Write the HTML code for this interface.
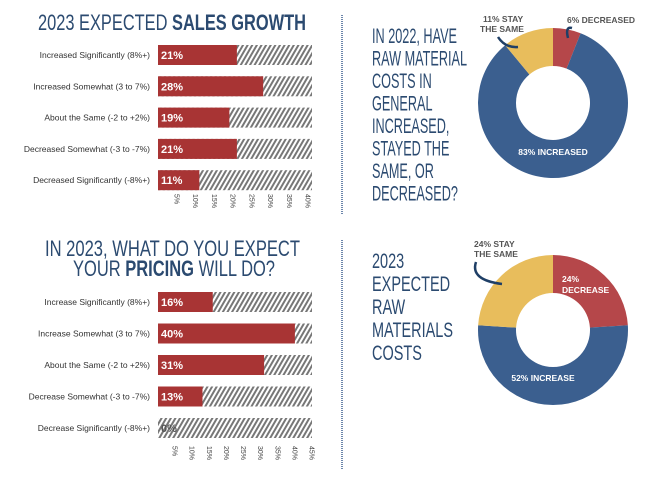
<!DOCTYPE html>
<html><head><meta charset="utf-8">
<style>
html,body{margin:0;padding:0;background:#fff;}
svg{display:block;}
.ttl{font-family:"Liberation Sans Narrow","Liberation Sans",sans-serif;fill:#2b4a70;}
.lbl{font-family:"Liberation Sans",sans-serif;font-size:8.5px;fill:#333;}
.val{font-family:"Liberation Sans",sans-serif;font-size:11px;font-weight:bold;fill:#fff;}
.tick{font-family:"Liberation Sans",sans-serif;font-size:7px;fill:#444;}
.dl{font-family:"Liberation Sans",sans-serif;font-size:8.5px;font-weight:bold;}
</style></head><body>
<svg id="chart" width="663" height="477" viewBox="0 0 663 477" xmlns="http://www.w3.org/2000/svg">
<defs>
<pattern id="hatch" patternUnits="userSpaceOnUse" width="4" height="4" patternTransform="rotate(30)">
<rect width="4" height="4" fill="#fff"/><rect width="2" height="4" fill="#777"/>
</pattern>
</defs>
<text class="ttl" x="38" y="30" font-size="22" textLength="268" lengthAdjust="spacingAndGlyphs">2023 EXPECTED <tspan font-weight="bold">SALES GROWTH</tspan></text>
<text class="ttl" x="45" y="256" font-size="22" textLength="255" lengthAdjust="spacingAndGlyphs">IN 2023, WHAT DO YOU EXPECT</text>
<text class="ttl" x="73" y="276" font-size="22" textLength="202" lengthAdjust="spacingAndGlyphs">YOUR <tspan font-weight="bold">PRICING</tspan> WILL DO?</text>
<line x1="342" y1="15" x2="342" y2="215" stroke="#3b5f8f" stroke-width="1.5" stroke-dasharray="1,1"/>
<line x1="342" y1="240" x2="342" y2="470" stroke="#3b5f8f" stroke-width="1.5" stroke-dasharray="1,1"/>
<g id="q1"></g>
<g id="q2"></g>
</svg>
<script>
const salesCats = ["Increased Significantly (8%+)","Increased Somewhat (3 to 7%)","About the Same (-2 to +2%)","Decreased Somewhat (-3 to -7%)","Decreased Significantly (-8%+)"];
const salesVals = [21,28,19,21,11];
const salesTicks = ["5%","10%","15%","20%","25%","30%","35%","40%"];
const priceCats = ["Increase Significantly (8%+)","Increase Somewhat (3 to 7%)","About the Same (-2 to +2%)","Decrease Somewhat (-3 to -7%)","Decrease Significantly (-8%+)"];
const priceVals = [16,40,31,13,0];
const priceTicks = ["5%","10%","15%","20%","25%","30%","35%","40%","45%"];
const donut1Labels = ["6% DECREASED","83% INCREASED","11% STAY THE SAME"];
const donut1Vals = [6,83,11];
const donut2Labels = ["24% DECREASE","52% INCREASE","24% STAY THE SAME"];
const donut2Vals = [24,52,24];
const q1Lines = ["IN 2022, HAVE","RAW MATERIAL","COSTS IN","GENERAL","INCREASED,","STAYED THE","SAME, OR","DECREASED?"];
const q2Lines = ["2023","EXPECTED","RAW","MATERIALS","COSTS"];

const NS="http://www.w3.org/2000/svg";
const svg=document.getElementById('chart');
function mk(tag,attrs,parent,text){const e=document.createElementNS(NS,tag);for(const k in attrs)e.setAttribute(k,attrs[k]);if(text!==undefined)e.textContent=text;(parent||svg).appendChild(e);return e;}

function barChart(cats,vals,ticks,maxV,y0,step,tickY,prefix){
  const x0=158,x1=312,bh=20;
  const xs=v=>x0+(x1-x0)*v/maxV;
  const g=mk('g',{});
  
  
  cats.forEach((c,i)=>{
    const cy=y0+i*step;
    const t=mk('text',{class:'lbl',x:150,y:cy+3,'text-anchor':'end'},g,c);
    
    
    const bg=mk('rect',{x:x0,y:cy-bh/2,width:x1-x0,height:bh,fill:'url(#hatch)'},g);
    
    
    const b=mk('rect',{x:x0,y:cy-bh/2,width:Math.max(0,xs(vals[i])-x0),height:bh,fill:'#a83434'},g);
    
    
    const v=mk('text',{class:'val',x:x0+3,y:cy+4},g,vals[i]+'%');
    if(vals[i]===0)v.setAttribute('style','fill:#555');
    
    
  });
  ticks.forEach(tk=>{
    const val=parseFloat(tk);
    const tx=xs(val);
    const t=mk('text',{class:'tick',x:0,y:0,transform:`translate(${tx-2.5},${tickY}) rotate(90)`},g,tk);
    
    
  });
}
barChart(salesCats,salesVals,salesTicks,41,55,31.3,194,'sales');
barChart(priceCats,priceVals,priceTicks,45,302,31.5,446,'pricing');

function arc(cx,cy,R,r,a0,a1){
  const p=(rad,a)=>[cx+rad*Math.sin(a),cy-rad*Math.cos(a)];
  const L=(a1-a0)>Math.PI?1:0;
  const [x1,y1]=p(R,a0),[x2,y2]=p(R,a1),[x3,y3]=p(r,a1),[x4,y4]=p(r,a0);
  return `M${x1},${y1}A${R},${R} 0 ${L} 1 ${x2},${y2}L${x3},${y3}A${r},${r} 0 ${L} 0 ${x4},${y4}Z`;
}
const colors=['#b5474a','#3b5f8f','#e8bd5c'];
function donut(vals,cx,cy,prefix){
  const tot=vals.reduce((a,b)=>a+b,0);let a=0;
  vals.forEach((v,i)=>{
    const a1=a+v/tot*2*Math.PI;
    const p=mk('path',{d:arc(cx,cy,75,37,a,a1),fill:colors[i]});
    
    
    a=a1;
  });
}
function lines(arr,x,y0,step,id,fs,refIdx,refW){
  const g=document.getElementById(id);
  const els=arr.map((l,i)=>{
    const t=mk('text',{class:'ttl',x:x,y:y0+i*step,'font-size':fs},g,l);
    
    
    return t;
  });
  const lens=els.map(e=>e.getComputedTextLength());
  const f=refW/lens[refIdx];
  els.forEach((e,i)=>{e.setAttribute('textLength',(lens[i]*f).toFixed(1));e.setAttribute('lengthAdjust','spacingAndGlyphs');});
}
lines(q1Lines,372,43,22.5,'q1',21,1,95);
lines(q2Lines,372,268,23,'q2',21,3,81);
donut(donut1Vals,553,103,'donut-2022');
donut(donut2Vals,553,330,'donut-2023');

function lab(txt,x,y,fill,name,anchor){
  const t=mk('text',{class:'dl',x:x,y:y,fill:fill,'text-anchor':anchor||'start'},svg,txt);
  
  
}
lab(donut1Labels[1],553,155,'#fff','donut-2022-increased-label','middle');
lab(donut1Labels[0],567,23,'#555','donut-2022-decreased-label');
lab("11% STAY",483,22,'#555','donut-2022-same-label');
lab("THE SAME",480,32,'#555','donut-2022-same-label-2');
lab(donut2Labels[1],543,381,'#fff','donut-2023-increase-label','middle');
lab("24%",562,282,'#fff','donut-2023-decrease-label');
lab("DECREASE",562,293,'#fff','donut-2023-decrease-label-2');
lab("24% STAY",474,247,'#555','donut-2023-same-label');
lab("THE SAME",474,257,'#555','donut-2023-same-label-2');
[["M498,37 Q505,48 518,47","donut-2022-same-arrow"],["M572,28 Q565,26 568,38","donut-2022-decreased-arrow"],["M476,262 Q470,280 502,284","donut-2023-same-arrow"]].forEach(([d,n])=>{
  const p=mk('path',{d:d,fill:'none',stroke:'#1f3f66','stroke-width':2.5});
  
  
});
</script>
</body></html>
